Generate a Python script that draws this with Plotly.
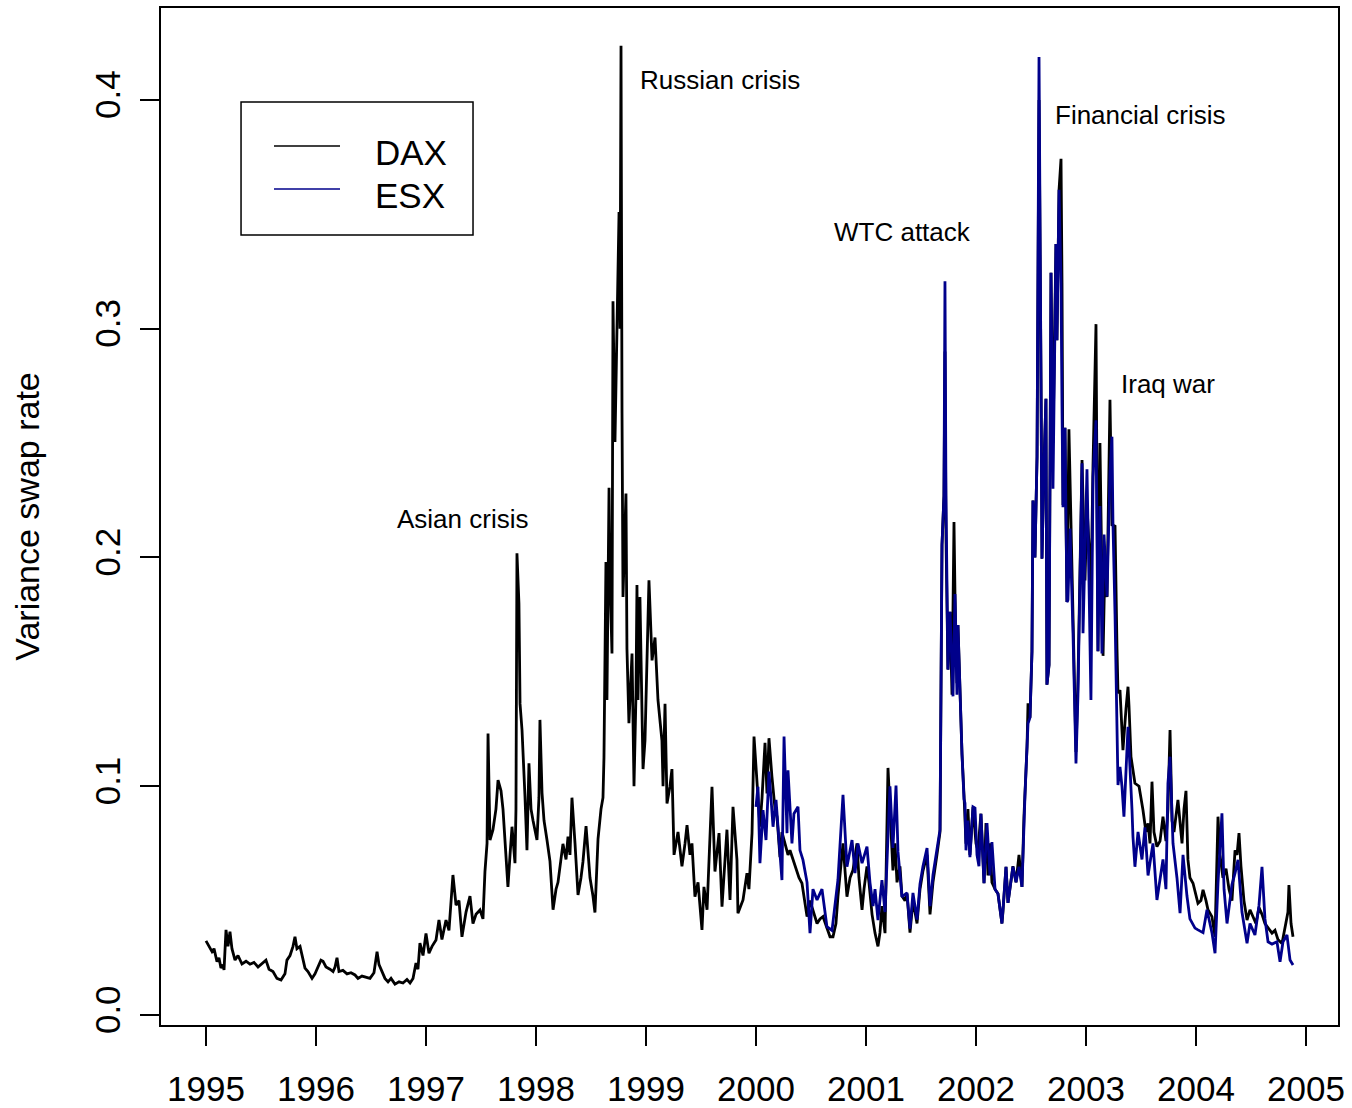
import plotly.graph_objects as go

# ---------------- data ----------------
dax_t = [
    1995.000, 1995.027, 1995.055, 1995.073, 1995.100, 1995.118, 1995.136, 1995.155, 1995.164, 1995.182,
    1995.200, 1995.218, 1995.236, 1995.264, 1995.291, 1995.327, 1995.364, 1995.400, 1995.436, 1995.473,
    1995.509, 1995.545, 1995.573, 1995.609, 1995.645, 1995.682, 1995.718, 1995.736, 1995.764, 1995.791,
    1995.809, 1995.827, 1995.855, 1995.882, 1995.900, 1995.927, 1995.964, 1995.991, 1996.018, 1996.045,
    1996.064, 1996.091, 1996.127, 1996.155, 1996.173, 1996.191, 1996.209, 1996.245, 1996.282, 1996.318,
    1996.355, 1996.382, 1996.418, 1996.455, 1996.491, 1996.527, 1996.555, 1996.573, 1996.600, 1996.627,
    1996.655, 1996.682, 1996.718, 1996.755, 1996.791, 1996.827, 1996.855, 1996.882, 1996.909, 1996.927,
    1996.945, 1996.973, 1997.000, 1997.027, 1997.055, 1997.091, 1997.118, 1997.145, 1997.182, 1997.209,
    1997.245, 1997.273, 1997.300, 1997.327, 1997.364, 1997.400, 1997.427, 1997.455, 1997.491, 1997.518,
    1997.536, 1997.555, 1997.564, 1997.582, 1997.609, 1997.636, 1997.655, 1997.682, 1997.700, 1997.718,
    1997.745, 1997.764, 1997.782, 1997.809, 1997.818, 1997.827, 1997.845, 1997.855, 1997.873, 1997.900,
    1997.918, 1997.936, 1997.955, 1997.973, 1997.991, 1998.009, 1998.027, 1998.036, 1998.055, 1998.073,
    1998.100, 1998.127, 1998.155, 1998.182, 1998.200, 1998.227, 1998.245, 1998.273, 1998.291, 1998.309,
    1998.327, 1998.355, 1998.382, 1998.409, 1998.427, 1998.455, 1998.473, 1998.491, 1998.518, 1998.536,
    1998.564, 1998.591, 1998.609, 1998.618, 1998.636, 1998.645, 1998.664, 1998.673, 1998.691, 1998.700,
    1998.718, 1998.736, 1998.755, 1998.764, 1998.773, 1998.782, 1998.791, 1998.818, 1998.827, 1998.845,
    1998.873, 1998.891, 1998.909, 1998.918, 1998.927, 1998.945, 1998.973, 1998.991, 1999.009, 1999.027,
    1999.055, 1999.082, 1999.109, 1999.145, 1999.155, 1999.173, 1999.191, 1999.218, 1999.236, 1999.255,
    1999.291, 1999.327, 1999.355, 1999.373, 1999.400, 1999.418, 1999.445, 1999.473, 1999.509, 1999.527,
    1999.555, 1999.582, 1999.600, 1999.627, 1999.664, 1999.691, 1999.736, 1999.764, 1999.791, 1999.827,
    1999.836, 1999.882, 1999.918, 1999.936, 1999.964, 1999.982, 2000.009, 2000.036, 2000.055, 2000.082,
    2000.100, 2000.118, 2000.145, 2000.173, 2000.191, 2000.218, 2000.236, 2000.264, 2000.291, 2000.309,
    2000.336, 2000.373, 2000.391, 2000.418, 2000.436, 2000.464, 2000.491, 2000.518, 2000.555, 2000.582,
    2000.609, 2000.645, 2000.673, 2000.700, 2000.727, 2000.745, 2000.773, 2000.791, 2000.827, 2000.855,
    2000.882, 2000.918, 2000.936, 2000.964, 2000.982, 2001.009, 2001.027, 2001.055, 2001.082, 2001.109,
    2001.127, 2001.145, 2001.173, 2001.200, 2001.218, 2001.245, 2001.264, 2001.282, 2001.309, 2001.327,
    2001.355, 2001.373, 2001.400, 2001.427, 2001.464, 2001.491, 2001.518, 2001.555, 2001.582, 2001.609,
    2001.645, 2001.673, 2001.691, 2001.709, 2001.718, 2001.727, 2001.745, 2001.764, 2001.782, 2001.800,
    2001.809, 2001.827, 2001.836, 2001.855, 2001.873, 2001.891, 2001.909, 2001.927, 2001.945, 2001.973,
    2002.000, 2002.018, 2002.045, 2002.073, 2002.091, 2002.109, 2002.127, 2002.145, 2002.173, 2002.200,
    2002.236, 2002.245, 2002.273, 2002.291, 2002.336, 2002.364, 2002.391, 2002.418, 2002.436, 2002.464,
    2002.473, 2002.491, 2002.509, 2002.518, 2002.536, 2002.555, 2002.573, 2002.591, 2002.600, 2002.618,
    2002.636, 2002.645, 2002.664, 2002.682, 2002.700, 2002.727, 2002.736, 2002.755, 2002.773, 2002.782,
    2002.791, 2002.809, 2002.827, 2002.845, 2002.864, 2002.882, 2002.909, 2002.927, 2002.955, 2002.964,
    2002.991, 2003.009, 2003.027, 2003.045, 2003.064, 2003.091, 2003.109, 2003.127, 2003.155, 2003.173,
    2003.191, 2003.209, 2003.218, 2003.236, 2003.264, 2003.282, 2003.291, 2003.309, 2003.318, 2003.336,
    2003.364, 2003.382, 2003.391, 2003.409, 2003.445, 2003.482, 2003.518, 2003.545, 2003.564, 2003.582,
    2003.600, 2003.618, 2003.645, 2003.673, 2003.700, 2003.727, 2003.745, 2003.764, 2003.782, 2003.800,
    2003.836, 2003.873, 2003.891, 2003.909, 2003.927, 2003.945, 2003.973, 2004.000, 2004.018, 2004.045,
    2004.064, 2004.091, 2004.109, 2004.145, 2004.173, 2004.200, 2004.218, 2004.245, 2004.273, 2004.300,
    2004.327, 2004.355, 2004.373, 2004.391, 2004.409, 2004.436, 2004.464, 2004.491, 2004.518, 2004.545,
    2004.573, 2004.600, 2004.627, 2004.655, 2004.691, 2004.718, 2004.745, 2004.782, 2004.800, 2004.818,
    2004.836, 2004.845, 2004.864, 2004.882,
]
dax_v = [
    0.0324, 0.0300, 0.0277, 0.0290, 0.0233, 0.0250, 0.0205, 0.0220, 0.0197, 0.0372,
    0.0300, 0.0364, 0.0290, 0.0240, 0.0260, 0.0223, 0.0235, 0.0222, 0.0230, 0.0210,
    0.0225, 0.0240, 0.0200, 0.0190, 0.0160, 0.0153, 0.0180, 0.0240, 0.0260, 0.0300,
    0.0342, 0.0290, 0.0300, 0.0240, 0.0205, 0.0190, 0.0160, 0.0180, 0.0210, 0.0240,
    0.0235, 0.0210, 0.0200, 0.0190, 0.0210, 0.0250, 0.0190, 0.0195, 0.0180, 0.0185,
    0.0175, 0.0160, 0.0170, 0.0165, 0.0160, 0.0185, 0.0277, 0.0220, 0.0190, 0.0160,
    0.0145, 0.0160, 0.0135, 0.0145, 0.0140, 0.0155, 0.0140, 0.0160, 0.0227, 0.0200,
    0.0314, 0.0260, 0.0356, 0.0270, 0.0300, 0.0328, 0.0415, 0.0330, 0.0415, 0.0370,
    0.0612, 0.0480, 0.0500, 0.0342, 0.0450, 0.0520, 0.0400, 0.0440, 0.0459, 0.0420,
    0.0627, 0.0750, 0.1230, 0.0765, 0.0810, 0.0900, 0.1027, 0.0980, 0.0900, 0.0765,
    0.0560, 0.0700, 0.0823, 0.0664, 0.0900, 0.2018, 0.1800, 0.1360, 0.1246, 0.0954,
    0.0720, 0.1100, 0.0900, 0.0850, 0.0800, 0.0765, 0.0950, 0.1290, 0.0970, 0.0850,
    0.0765, 0.0673, 0.0460, 0.0550, 0.0580, 0.0680, 0.0748, 0.0680, 0.0780, 0.0700,
    0.0950, 0.0748, 0.0525, 0.0600, 0.0670, 0.0826, 0.0700, 0.0600, 0.0520, 0.0448,
    0.0770, 0.0900, 0.0950, 0.1125, 0.1980, 0.1377, 0.2305, 0.1900, 0.1580, 0.3120,
    0.2505, 0.2957, 0.3510, 0.3000, 0.4237, 0.2630, 0.1827, 0.2280, 0.1600, 0.1276,
    0.1580, 0.1000, 0.1400, 0.1880, 0.1377, 0.1827, 0.1075, 0.1200, 0.1500, 0.1900,
    0.1550, 0.1650, 0.1377, 0.1200, 0.1000, 0.1360, 0.0925, 0.1000, 0.1075, 0.0700,
    0.0800, 0.0650, 0.0750, 0.0830, 0.0700, 0.0750, 0.0517, 0.0580, 0.0372, 0.0560,
    0.0460, 0.0765, 0.0998, 0.0627, 0.0795, 0.0474, 0.0810, 0.0503, 0.0910, 0.0678,
    0.0445, 0.0503, 0.0620, 0.0550, 0.0795, 0.1217, 0.1013, 0.0823, 0.0950, 0.1190,
    0.0969, 0.1210, 0.1042, 0.0900, 0.0867, 0.0690, 0.0800, 0.0750, 0.0700, 0.0720,
    0.0680, 0.0634, 0.0600, 0.0576, 0.0520, 0.0430, 0.0500, 0.0460, 0.0400, 0.0420,
    0.0430, 0.0380, 0.0342, 0.0342, 0.0400, 0.0517, 0.0650, 0.0750, 0.0517, 0.0600,
    0.0634, 0.0750, 0.0600, 0.0460, 0.0550, 0.0650, 0.0580, 0.0440, 0.0358, 0.0300,
    0.0360, 0.0476, 0.0358, 0.1080, 0.0900, 0.0632, 0.0750, 0.0580, 0.0650, 0.0520,
    0.0500, 0.0530, 0.0360, 0.0500, 0.0400, 0.0550, 0.0630, 0.0700, 0.0440, 0.0580,
    0.0700, 0.0800, 0.2056, 0.2270, 0.2900, 0.2100, 0.1510, 0.1763, 0.1400, 0.2155,
    0.1840, 0.1450, 0.1705, 0.1400, 0.1139, 0.0963, 0.0749, 0.0900, 0.0700, 0.0910,
    0.0750, 0.0720, 0.0880, 0.0576, 0.0839, 0.0610, 0.0750, 0.0580, 0.0550, 0.0530,
    0.0400, 0.0450, 0.0648, 0.0490, 0.0650, 0.0580, 0.0700, 0.0560, 0.0867, 0.1173,
    0.1363, 0.1300, 0.1590, 0.2249, 0.2000, 0.2440, 0.4000, 0.2779, 0.1995, 0.2400,
    0.2694, 0.1444, 0.1530, 0.3245, 0.2500, 0.3370, 0.2950, 0.3607, 0.3743, 0.3200,
    0.2230, 0.2567, 0.1805, 0.2560, 0.2140, 0.1669, 0.1150, 0.1460, 0.2208, 0.2426,
    0.1900, 0.2225, 0.2060, 0.1830, 0.2410, 0.3020, 0.1590, 0.2500, 0.1570, 0.2000,
    0.1827, 0.2525, 0.2689, 0.2143, 0.2137, 0.1600, 0.1407, 0.1420, 0.1304, 0.1158,
    0.1340, 0.1435, 0.1350, 0.1129, 0.1013, 0.1000, 0.0896, 0.0800, 0.0838, 0.0750,
    0.1020, 0.0800, 0.0736, 0.0760, 0.0867, 0.0760, 0.0900, 0.1246, 0.0850, 0.0800,
    0.0940, 0.0750, 0.0900, 0.0980, 0.0678, 0.0600, 0.0576, 0.0520, 0.0488, 0.0500,
    0.0547, 0.0500, 0.0460, 0.0430, 0.0342, 0.0867, 0.0700, 0.0600, 0.0640, 0.0550,
    0.0500, 0.0720, 0.0700, 0.0795, 0.0650, 0.0500, 0.0415, 0.0460, 0.0430, 0.0400,
    0.0470, 0.0440, 0.0400, 0.0380, 0.0358, 0.0370, 0.0330, 0.0313, 0.0360, 0.0400,
    0.0450, 0.0568, 0.0400, 0.0342,
]

esx_t = [
    2000.000, 2000.018, 2000.036, 2000.064, 2000.091, 2000.118, 2000.136, 2000.155, 2000.182, 2000.209,
    2000.236, 2000.255, 2000.282, 2000.291, 2000.327, 2000.345, 2000.382, 2000.400, 2000.427, 2000.464,
    2000.491, 2000.518, 2000.555, 2000.600, 2000.645, 2000.691, 2000.718, 2000.745, 2000.791, 2000.827,
    2000.873, 2000.900, 2000.927, 2000.964, 2001.009, 2001.036, 2001.064, 2001.082, 2001.109, 2001.145,
    2001.173, 2001.200, 2001.218, 2001.245, 2001.273, 2001.291, 2001.327, 2001.373, 2001.400, 2001.427,
    2001.464, 2001.491, 2001.518, 2001.555, 2001.582, 2001.609, 2001.645, 2001.673, 2001.691, 2001.709,
    2001.718, 2001.727, 2001.745, 2001.764, 2001.791, 2001.809, 2001.827, 2001.836, 2001.873, 2001.891,
    2001.900, 2001.909, 2001.927, 2001.945, 2001.973, 2001.991, 2002.009, 2002.027, 2002.045, 2002.073,
    2002.100, 2002.127, 2002.145, 2002.173, 2002.200, 2002.236, 2002.245, 2002.273, 2002.291, 2002.336,
    2002.364, 2002.391, 2002.418, 2002.436, 2002.445, 2002.464, 2002.473, 2002.491, 2002.509, 2002.518,
    2002.536, 2002.555, 2002.573, 2002.591, 2002.600, 2002.618, 2002.636, 2002.645, 2002.664, 2002.682,
    2002.700, 2002.727, 2002.736, 2002.755, 2002.773, 2002.782, 2002.791, 2002.809, 2002.827, 2002.836,
    2002.855, 2002.882, 2002.909, 2002.927, 2002.964, 2002.973, 2003.009, 2003.027, 2003.045, 2003.064,
    2003.091, 2003.109, 2003.127, 2003.145, 2003.164, 2003.191, 2003.218, 2003.236, 2003.245, 2003.264,
    2003.282, 2003.291, 2003.309, 2003.327, 2003.345, 2003.364, 2003.382, 2003.418, 2003.427, 2003.445,
    2003.473, 2003.509, 2003.536, 2003.564, 2003.609, 2003.645, 2003.673, 2003.700, 2003.727, 2003.745,
    2003.764, 2003.791, 2003.827, 2003.855, 2003.882, 2003.918, 2003.945, 2003.991, 2004.018, 2004.064,
    2004.100, 2004.145, 2004.173, 2004.200, 2004.236, 2004.255, 2004.282, 2004.327, 2004.355, 2004.382,
    2004.418, 2004.464, 2004.491, 2004.536, 2004.573, 2004.600, 2004.627, 2004.655, 2004.691, 2004.736,
    2004.764, 2004.791, 2004.827, 2004.855, 2004.882,
]
esx_v = [
    0.0910, 0.0998, 0.0664, 0.0896, 0.0765, 0.1064, 0.0950, 0.0823, 0.0940, 0.0765,
    0.0590, 0.1217, 0.0795, 0.1070, 0.0750, 0.0880, 0.0910, 0.0720, 0.0678, 0.0580,
    0.0358, 0.0550, 0.0503, 0.0550, 0.0386, 0.0370, 0.0474, 0.0590, 0.0962, 0.0648,
    0.0765, 0.0620, 0.0750, 0.0664, 0.0736, 0.0580, 0.0476, 0.0550, 0.0415, 0.0590,
    0.0450, 0.0765, 0.1000, 0.0730, 0.1003, 0.0713, 0.0516, 0.0534, 0.0378, 0.0534,
    0.0417, 0.0573, 0.0650, 0.0730, 0.0476, 0.0612, 0.0730, 0.0810, 0.2056, 0.2270,
    0.3208, 0.2270, 0.1510, 0.1763, 0.1393, 0.1840, 0.1400, 0.1705, 0.1139, 0.0944,
    0.0926, 0.0720, 0.0850, 0.0690, 0.0910, 0.0905, 0.0700, 0.0650, 0.0880, 0.0576,
    0.0839, 0.0610, 0.0756, 0.0550, 0.0530, 0.0400, 0.0460, 0.0648, 0.0490, 0.0648,
    0.0580, 0.0648, 0.0560, 0.0867, 0.0957, 0.1173, 0.1274, 0.1300, 0.1590, 0.2249,
    0.2000, 0.2440, 0.4188, 0.2779, 0.1995, 0.2400, 0.2694, 0.1444, 0.1530, 0.3245,
    0.2300, 0.3370, 0.2950, 0.3607, 0.3200, 0.2660, 0.2220, 0.2567, 0.1805, 0.1814,
    0.2127, 0.1669, 0.1100, 0.1400, 0.2412, 0.1669, 0.2386, 0.1900, 0.1377, 0.2352,
    0.2600, 0.1590, 0.2225, 0.1580, 0.2100, 0.1830, 0.2370, 0.2528, 0.2155, 0.1750,
    0.1144, 0.1005, 0.1085, 0.1000, 0.0867, 0.1050, 0.1260, 0.0900, 0.0780, 0.0648,
    0.0800, 0.0680, 0.0820, 0.0610, 0.0750, 0.0503, 0.0600, 0.0680, 0.0550, 0.1013,
    0.1129, 0.0750, 0.0600, 0.0445, 0.0700, 0.0520, 0.0420, 0.0380, 0.0372, 0.0360,
    0.0460, 0.0360, 0.0270, 0.0576, 0.0882, 0.0550, 0.0400, 0.0570, 0.0620, 0.0678,
    0.0450, 0.0313, 0.0400, 0.0350, 0.0480, 0.0648, 0.0420, 0.0320, 0.0310, 0.0320,
    0.0233, 0.0320, 0.0350, 0.0240, 0.0219,
]

year_ticks = [1995, 1996, 1997, 1998, 1999, 2000, 2001, 2002, 2003, 2004, 2005]
rate_ticks = [0.0, 0.1, 0.2, 0.3, 0.4]

event_labels = ["Asian crisis", "Russian crisis", "WTC attack", "Financial crisis", "Iraq war"]
event_x = [1997.336, 1999.673, 2001.336, 2003.491, 2003.745]
event_y = [0.2168, 0.4087, 0.3423, 0.3934, 0.2758]

series_names = ["DAX", "ESX"]
series_colors = ["black", "#00008B"]

FONT = "Liberation Sans, Arial, Helvetica, sans-serif"

fig = go.Figure()
fig.add_trace(go.Scatter(x=dax_t, y=dax_v, mode="lines", name=series_names[0],
                         line=dict(color=series_colors[0], width=2.8)))
fig.add_trace(go.Scatter(x=esx_t, y=esx_v, mode="lines", name=series_names[1],
                         line=dict(color=series_colors[1], width=2.8)))

for lab, ex, ey in zip(event_labels, event_x, event_y):
    fig.add_annotation(x=ex, y=ey, xref="x", yref="y", text=lab, showarrow=False,
                       xanchor="center", yanchor="middle",
                       font=dict(family=FONT, size=26, color="black"))

# legend box drawn in paper space (R-style legend)
fig.add_shape(type="rect", xref="paper", yref="paper",
              x0=0.0680, x1=0.2651, y0=0.7768, y1=0.9076,
              line=dict(color="black", width=1.5), fillcolor="white", layer="above")
for name, col, ly, ty in zip(series_names, series_colors, [0.8643, 0.8220], [0.8584, 0.8161]):
    fig.add_shape(type="line", xref="paper", yref="paper",
                  x0=0.0960, x1=0.1521, y0=ly, y1=ly,
                  line=dict(color=col, width=1.6), layer="above")
    fig.add_annotation(x=0.1801, y=ty, xref="paper", yref="paper", text=name,
                       showarrow=False, xanchor="left", yanchor="middle",
                       font=dict(family=FONT, size=35, color="black"))

fig.update_layout(
    width=1352, height=1108,
    margin=dict(l=161, r=14, t=8, b=83),
    paper_bgcolor="white", plot_bgcolor="white",
    font=dict(family=FONT, color="black"),
    showlegend=False,
)
fig.update_xaxes(
    range=[1994.591, 2005.291], tickmode="array", tickvals=year_ticks,
    ticktext=[str(v) for v in year_ticks], automargin=False,
    ticks="outside", ticklen=19, tickwidth=1.5, tickcolor="black",
    showline=True, linecolor="black", linewidth=1.5, mirror=True,
    showgrid=False, zeroline=False,
    tickfont=dict(family=FONT, size=35), ticklabelstandoff=13,
)
fig.update_yaxes(
    range=[-0.00437, 0.4402], tickmode="array", tickvals=rate_ticks,
    ticktext=["%.1f" % v for v in rate_ticks], tickangle=-90, automargin=False,
    ticks="outside", ticklen=19, tickwidth=1.5, tickcolor="black",
    showline=True, linecolor="black", linewidth=1.5, mirror=True,
    showgrid=False, zeroline=False,
    tickfont=dict(family=FONT, size=35), ticklabelstandoff=6,
    title=dict(text="Variance swap rate", font=dict(family=FONT, size=34), standoff=38),
)

fig.write_html("out.html")
